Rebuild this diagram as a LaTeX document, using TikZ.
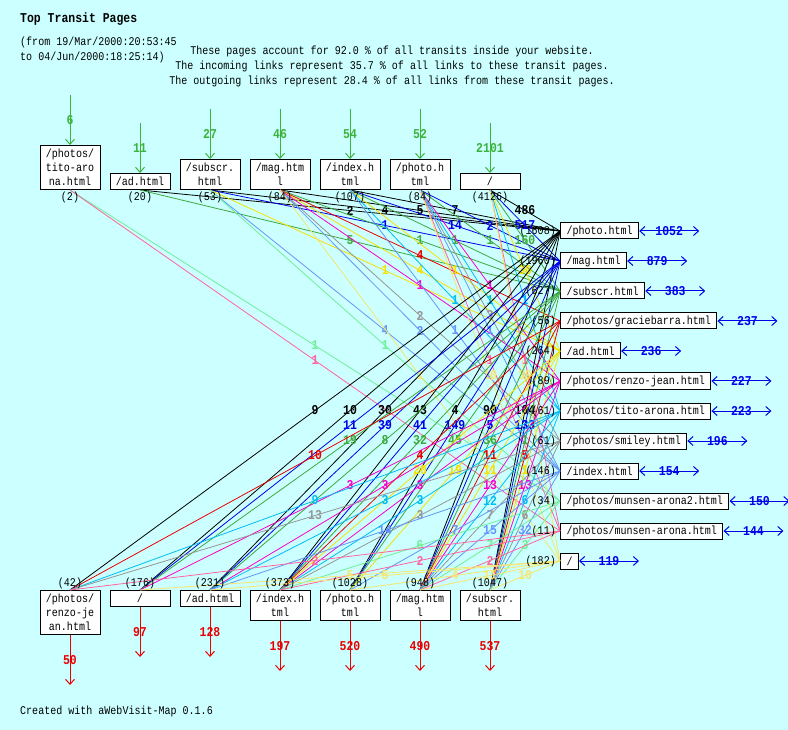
\documentclass[tikz,border=0pt]{standalone}
\usepackage{fontspec}
\setmonofont[FakeStretch=0.85]{Liberation Mono}
\usetikzlibrary{arrows.meta, positioning}

\definecolor{bgcol}{RGB}{204,255,255}
\definecolor{col1}{RGB}{0,0,0}
\definecolor{col2}{RGB}{0,0,235}
\definecolor{col3}{RGB}{60,170,60}
\definecolor{col4}{RGB}{235,0,0}
\definecolor{col5}{RGB}{245,225,0}
\definecolor{col6}{RGB}{250,0,200}
\definecolor{col7}{RGB}{0,190,245}
\definecolor{col8}{RGB}{150,150,150}
\definecolor{col9}{RGB}{100,150,250}
\definecolor{col10}{RGB}{110,240,150}
\definecolor{col11}{RGB}{255,100,160}
\definecolor{col12}{RGB}{245,230,110}
\definecolor{ingreen}{RGB}{60,180,60}
\definecolor{outred}{RGB}{235,0,0}
\definecolor{outblue}{RGB}{0,0,235}

\begin{document}
\begin{tikzpicture}[x=1pt, y=-1pt, >={Straight Barb[length=5pt,width=9pt]}, font=\ttfamily\fontsize{11.8}{14}\selectfont]
	\tikzstyle{page} = [draw, fill=white, line width=1pt, minimum width=60pt, inner sep=0.5pt, align=center]
	\tikzstyle{target} = [draw, fill=white, line width=1pt, minimum height=16pt, inner xsep=6pt, inner ysep=0pt, anchor=west]
	\tikzstyle{cnt} = [inner sep=0pt]
	\tikzstyle{num} = [inner sep=0pt, font=\ttfamily\bfseries\fontsize{13.5}{14}\selectfont]
	\tikzstyle{link} = [line width=0.8pt]

	\useasboundingbox (0,0) rectangle (788,730);
	\fill[bgcol] (0,0) rectangle (788,730);

	% header
	\node[num, anchor=west] (title) at (20,19) {Top Transit Pages};
	\node[cnt, anchor=west] (from) at (20,42) {(from 19/Mar/2000:20:53:45};
	\node[cnt, anchor=west] (to) at (20,57) {to 04/Jun/2000:18:25:14)};
	\node[cnt] (share) at (392,51) {These pages account for 92.0 \% of all transits inside your website.};
	\node[cnt] (incoming) at (392,66) {The incoming links represent 35.7 \% of all links to these transit pages.};
	\node[cnt] (outgoing) at (392,81) {The outgoing links represent 28.4 \% of all links from these transit pages.};

	% pages the visitors come from
	\node[page, anchor=south, minimum height=44pt] (t1) at (70,190) {/photos/\\tito-aro\\na.html};
	\node[page, anchor=south, minimum height=16pt] (t2) at (140,190) {/ad.html};
	\node[page, anchor=south, minimum height=30pt] (t3) at (210,190) {/subscr.\\html};
	\node[page, anchor=south, minimum height=30pt] (t4) at (280,190) {/mag.htm\\l};
	\node[page, anchor=south, minimum height=30pt] (t5) at (350,190) {/index.h\\tml};
	\node[page, anchor=south, minimum height=30pt] (t6) at (420,190) {/photo.h\\tml};
	\node[page, anchor=south, minimum height=16pt] (t7) at (490,190) {/};

	% pages the visitors go to
	\node[page, anchor=north, minimum height=44pt] (b1) at (70,590) {/photos/\\renzo-je\\an.html};
	\node[page, anchor=north, minimum height=16pt] (b2) at (140,590) {/};
	\node[page, anchor=north, minimum height=16pt] (b3) at (210,590) {/ad.html};
	\node[page, anchor=north, minimum height=30pt] (b4) at (280,590) {/index.h\\tml};
	\node[page, anchor=north, minimum height=30pt] (b5) at (350,590) {/photo.h\\tml};
	\node[page, anchor=north, minimum height=30pt] (b6) at (420,590) {/mag.htm\\l};
	\node[page, anchor=north, minimum height=30pt] (b7) at (490,590) {/subscr.\\html};

	% transit pages
	\node[target] (r1) at (560,231) {/photo.html};
	\node[target] (r2) at (560,261) {/mag.html};
	\node[target] (r3) at (560,291) {/subscr.html};
	\node[target] (r4) at (560,321) {/photos/graciebarra.html};
	\node[target] (r5) at (560,351) {/ad.html};
	\node[target] (r6) at (560,381) {/photos/renzo-jean.html};
	\node[target] (r7) at (560,411) {/photos/tito-arona.html};
	\node[target] (r8) at (560,441) {/photos/smiley.html};
	\node[target] (r9) at (560,471) {/index.html};
	\node[target] (r10) at (560,501) {/photos/munsen-arona2.html};
	\node[target] (r11) at (560,531) {/photos/munsen-arona.html};
	\node[target] (r12) at (560,561) {/};

	% incoming links
	\foreach \i/\j/\n in {1/2/2, 1/3/4, 1/4/5, 1/5/7, 1/7/486,
			2/3/1, 2/5/14, 2/6/2, 2/7/517,
			3/2/5, 3/4/1, 3/5/1, 3/6/1, 3/7/160,
			4/4/4,
			5/3/1, 5/4/4, 5/5/1, 5/7/30,
			6/4/1, 6/6/1,
			7/5/1, 7/6/1, 7/7/1,
			8/4/2, 8/6/3,
			9/3/4, 9/4/2, 9/5/1, 9/6/1,
			10/1/1, 10/3/1,
			11/1/1, 11/6/1, 11/7/1,
			12/4/1, 12/6/10, 12/7/30}
		\draw[link, color=col\i] (t\j.south) -- node[num] {\n} (r\i.west);

	% outgoing links
	\foreach \i/\j/\n in {1/1/9, 1/2/10, 1/3/30, 1/4/43, 1/5/4, 1/6/90, 1/7/104,
			2/2/11, 2/3/39, 2/4/41, 2/5/149, 2/6/5, 2/7/133,
			3/2/19, 3/3/8, 3/4/32, 3/5/45, 3/6/36, 3/7/1,
			4/1/10, 4/4/4, 4/6/11, 4/7/5,
			5/4/20, 5/5/19, 5/6/11, 5/7/1,
			6/2/3, 6/3/3, 6/4/3, 6/6/13, 6/7/13,
			7/1/9, 7/3/3, 7/4/3, 7/6/12, 7/7/6,
			8/1/13, 8/4/3, 8/6/7, 8/7/6,
			9/3/14, 9/5/7, 9/6/15, 9/7/32,
			10/4/6, 10/6/7, 10/7/3,
			11/1/2, 11/4/2, 11/6/2,
			12/2/5, 12/3/5, 12/5/4, 12/6/11, 12/7/10}
		\draw[link, color=col\i] (r\i.west) -- node[num] {\n} (b\j.north);

	% counts
	\foreach \j/\c in {1/(2), 2/(20), 3/(53), 4/(84), 5/(107), 6/(84), 7/(4126)}
		\node[cnt, below=2pt of t\j] {\c};
	\foreach \j/\c in {1/(42), 2/(176), 3/(231), 4/(373), 5/(1028), 6/(948), 7/(1047)}
		\node[cnt, above=1pt of b\j] {\c};
	\foreach \i/\c in {1/(1608), 2/(1960), 3/(627), 4/(56), 5/(264), 6/(89),
			7/(61), 8/(61), 9/(146), 10/(34), 11/(11), 12/(182)}
		\node[cnt, left=4pt of r\i] {\c};

	% entries, exits and links leaving the map
	\foreach \j/\n in {1/6, 2/11, 3/27, 4/46, 5/54, 6/52, 7/2101} {
		\coordinate (s\j) at ([yshift=50pt]t\j.north);
		\draw[->, ingreen, line width=1pt] (s\j) -- node[num] {\n} (t\j.north);
	}
	\foreach \j/\n in {1/50, 2/97, 3/128, 4/197, 5/520, 6/490, 7/537} {
		\coordinate (d\j) at ([yshift=-50pt]b\j.south);
		\draw[->, outred, line width=1pt] (b\j.south) -- node[num] {\n} (d\j);
	}
	\foreach \i/\n in {1/1052, 2/879, 3/383, 4/237, 5/236, 6/227,
			7/223, 8/196, 9/154, 10/150, 11/144, 12/119} {
		\coordinate (e\i) at ([xshift=60pt]r\i.east);
		\draw[<->, outblue, line width=1pt] (r\i.east) -- node[num] {\n} (e\i);
	}

	\node[cnt, anchor=west] (credit) at (20,711) {Created with aWebVisit-Map 0.1.6};
\end{tikzpicture}
\end{document}
